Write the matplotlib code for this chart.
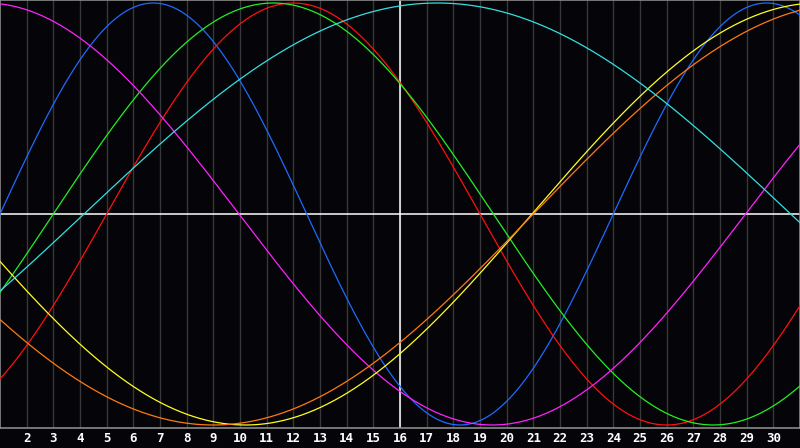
import numpy as np
import matplotlib
matplotlib.use("Agg")
import matplotlib.pyplot as plt

# biorhythm cycles: length in days and the day of the month on which each one peaks
cycle_names = ['physical', 'emotional', 'intellectual', 'intuitive', 'aesthetic', 'awareness', 'spiritual']
cycle_days = [23, 28, 33, 38, 43, 48, 53]
peak_day = [6.75, 12.0, 11.25, 0.46, 31.7, 33.0, 17.4]
line_colors = ['#1e6bff', '#ff1010', '#22f022', '#ff22ff', '#ffff22', '#ff7a10', '#33e0e0']

first_day = 1
last_day = 31
today = 16
day_labels = list(range(2, 31))

fig = plt.figure(figsize=(8, 4.48), dpi=100)
fig.patch.set_facecolor('#050408')
ax = fig.add_axes([0, 20 / 448, 1, 428 / 448])
ax.set_facecolor('#050408')

# day grid
for d in range(first_day + 1, last_day):
    ax.axvline(d, color='#38383a', lw=1, zorder=1)

# zero line and today marker
ax.axhline(0, color='white', lw=1.1, zorder=2)
ax.axvline(today, color='white', lw=1.1, zorder=2)

t = np.linspace(first_day, last_day, 1200)
for name, p, pk, c in zip(cycle_names, cycle_days, peak_day, line_colors):
    ax.plot(t, np.cos(2 * np.pi * (t - pk) / p), color=c, lw=0.9, zorder=3, label=name)

ax.set_xlim(first_day, last_day)
ax.set_ylim(-214 / 211, 214 / 211)

for s in ax.spines.values():
    s.set_color('#8a8a8a')
    s.set_linewidth(1.2)

ax.set_xticks(day_labels)
ax.set_xticklabels([str(d) for d in day_labels], color='white',
                   fontfamily='DejaVu Sans Mono', fontweight='bold', fontsize=9)
ax.tick_params(axis='x', length=0, pad=3)
ax.set_yticks([])

fig.savefig('out.png', dpi=100, facecolor=fig.get_facecolor())
